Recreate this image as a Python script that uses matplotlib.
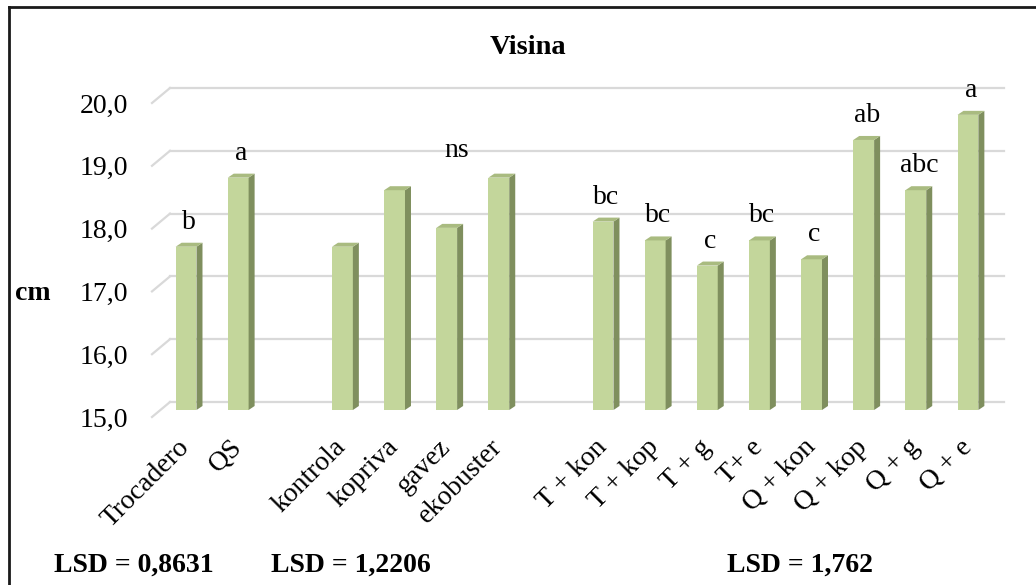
import matplotlib.pyplot as plt
from matplotlib.patches import Polygon
from matplotlib.lines import Line2D
from matplotlib.transforms import ScaledTranslation

plt.rcParams['font.family'] = ['Liberation Serif', 'DejaVu Serif']
plt.rcParams['font.size'] = 20

# data
cultivars = ['Trocadero', 'QS']
cultivar_vals = [17.6, 18.7]
cultivar_letters = ['b', 'a']

treatments = ['kontrola', 'kopriva', 'gavez', 'ekobuster']
treatment_vals = [17.6, 18.5, 17.9, 18.7]
treatment_note = 'ns'

combos = ['T + kon', 'T + kop', 'T + g', 'T+ e', 'Q + kon', 'Q + kop', 'Q + g', 'Q + e']
combo_vals = [18.0, 17.7, 17.3, 17.7, 17.4, 19.3, 18.5, 19.7]
combo_letters = ['bc', 'bc', 'c', 'bc', 'c', 'ab', 'abc', 'a']

lsd_texts = ['LSD = 0,8631', 'LSD = 1,2206', 'LSD = 1,762']
y_ticks = [15, 16, 17, 18, 19, 20]

# one empty slot between groups
groups = [cultivars, treatments, combos]
pos = []
start = 0
for g in groups:
    pos += list(range(start, start + len(g)))
    start += len(g) + 1
names = cultivars + treatments + combos
vals = cultivar_vals + treatment_vals + combo_vals
letters = cultivar_letters + [''] * len(treatments) + combo_letters

W, H = 1036, 585
fig = plt.figure(figsize=(W / 100, H / 100), dpi=100)


def px_box(l, t, r, b):
    return [l / W, 1 - b / H, (r - l) / W, (b - t) / H]


y0, y1 = 15, 20.5
px_per_unit = 62.8
ax_l, ax_r, ax_b = 160, 994, 410
ax_t = ax_b - (y1 - y0) * px_per_unit

# plane the bars stand in
ax = fig.add_axes(px_box(ax_l, ax_t, ax_r, ax_b))
ax.set_xlim(-0.5, 15.5)
ax.set_ylim(y0, y1)
ax.patch.set_visible(False)
for s in ax.spines.values():
    s.set_visible(False)
ax.set_yticks([])

# front plane, only for the y tick labels
ax_front = fig.add_axes(px_box(ax_l - 8, ax_t + 7, ax_r - 8, ax_b + 7))
ax_front.set_ylim(y0, y1)
ax_front.patch.set_visible(False)
for s in ax_front.spines.values():
    s.set_visible(False)
ax_front.set_xticks([])
ax_front.set_yticks(y_ticks, [f'{t:.1f}'.replace('.', ',') for t in y_ticks])
ax_front.tick_params(axis='y', length=0, pad=17)

# gridlines on the back wall
def offset(dx, dy):
    return ScaledTranslation(dx / 100, -dy / 100, fig.dpi_scale_trans)

grid_c = '#D9D9D9'
back = ax.get_yaxis_transform() + offset(10, -8)
front = ax.get_yaxis_transform() + offset(-8, 7)
wall_dx = 18 / (ax_r - ax_l)
wall_dy = 15 / px_per_unit
for t in y_ticks:
    ax.plot([0, 1], [t, t], transform=back, color=grid_c, lw=1.6, zorder=0, clip_on=False)
    ax.plot([0, wall_dx], [t, t + wall_dy], transform=front, color=grid_c, lw=1.6,
            zorder=0, clip_on=False)

# bars with a bit of depth
face_c = '#C3D69B'
side_c = '#7F8F5E'
top_c = '#A9BB80'
w = 0.4
dx = 6 / (ax_r - ax_l) * 16
dy = 4 / px_per_unit
ax.bar(pos, [v - y0 for v in vals], bottom=y0, width=w, color=face_c, zorder=3)
for x, v in zip(pos, vals):
    side = [(x + w / 2, y0), (x + w / 2 + dx, y0 + dy), (x + w / 2 + dx, v + dy), (x + w / 2, v)]
    top = [(x - w / 2, v), (x - w / 2 + dx, v + dy), (x + w / 2 + dx, v + dy), (x + w / 2, v)]
    ax.add_patch(Polygon(side, closed=True, color=side_c, zorder=3, lw=0))
    ax.add_patch(Polygon(top, closed=True, color=top_c, zorder=3, lw=0))

for x, v, lab in zip(pos, vals, letters):
    if lab:
        ax.annotate(lab, (x + dx / 2, v), xytext=(0, 13), textcoords='offset points',
                    ha='center', va='baseline')

gavez_x = pos[len(cultivars) + treatments.index('gavez')]
ax.annotate(treatment_note, (gavez_x + 0.2, max(treatment_vals)), xytext=(0, 15),
            textcoords='offset points', ha='center', va='baseline')

ax.set_xticks(pos, names, rotation=45, ha='right', va='center', rotation_mode='anchor')
ax.tick_params(axis='x', length=0, pad=24)

# texts around
fig.text(528 / W, 1 - 47 / H, 'Visina', ha='center', va='center', weight='bold', fontsize=20.5)
fig.text(33 / W, 1 - 293 / H, 'cm', ha='center', va='center', weight='bold')
for cx, txt in zip([134, 351, 800], lsd_texts):
    fig.text(cx / W, 1 - 565 / H, txt, ha='center', va='center', weight='bold')

# chart border (cut at right and bottom)
fig.add_artist(Line2D([9 / W, 9 / W], [0, 1 - 7 / H], color='#1a1a1a', lw=2))
fig.add_artist(Line2D([9 / W, 1], [1 - 7 / H, 1 - 7 / H], color='#1a1a1a', lw=2))

fig.savefig('out.png', dpi=100)
